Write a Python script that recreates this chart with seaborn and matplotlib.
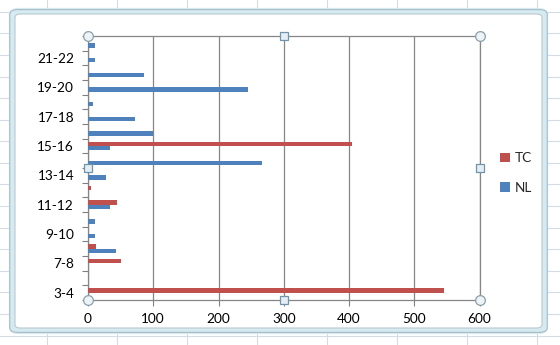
import matplotlib
matplotlib.use("Agg")
import matplotlib.pyplot as plt
import seaborn as sns
import pandas as pd
import numpy as np
from matplotlib.lines import Line2D
from matplotlib.patches import FancyBboxPatch, Patch

# ---- data (top-to-bottom order as displayed) ----
categories = ["22-23", "21-22", "20-21", "19-20", "18-19", "17-18", "16-17", "15-16",
              "14-15", "13-14", "12-13", "11-12", "10-11", "9-10", "8-9", "7-8", "6-7", "3-4"]
tc_values = [0, 0, 0, 0, 0, 0, 0, 404, 0, 0, 4, 45, 0, 0, 13, 51, 0, 545]
nl_values = [10, 11, 86, 245, 7, 72, 100, 34, 267, 27, 0, 33, 11, 11, 43, 0, 0, 0]
series_names = ["TC", "NL"]
series_colors = ["#C0504D", "#4F81BD"]
x_ticks = [0, 100, 200, 300, 400, 500, 600]

df = pd.DataFrame({
    "cat": categories * 2,
    "value": tc_values + nl_values,
    "series": [series_names[0]] * len(categories) + [series_names[1]] * len(categories),
})

sns.set_theme(style="white")
plt.rcParams["font.family"] = ["Lato", "DejaVu Sans"]

W, H = 560, 345
fig = plt.figure(figsize=(W / 100, H / 100), dpi=100)
fig.patch.set_facecolor("white")

# spreadsheet grid behind the chart
grid_c = "#d4dbe6"
for x in [47, 117, 187, 257, 327, 397, 467, 537]:
    fig.add_artist(Line2D([x / W, x / W], [0, 1], color=grid_c, lw=0.8, transform=fig.transFigure, zorder=0))
for y in np.arange(11.7, 345, 21.6):
    fig.add_artist(Line2D([0, 1], [1 - y / H, 1 - y / H], color=grid_c, lw=0.8, transform=fig.transFigure, zorder=0))

# chart frame (selected chart)
x0, y0, x1, y1 = 12, 11, 545, 331
fig.add_artist(FancyBboxPatch((x0 / W, 1 - y1 / H), (x1 - x0) / W, (y1 - y0) / H,
                              boxstyle="round,pad=0,rounding_size=0.012",
                              transform=fig.transFigure, facecolor="white",
                              edgecolor="#d6eaf1", lw=4.5, zorder=1))
fig.add_artist(FancyBboxPatch((x0 / W, 1 - y1 / H), (x1 - x0) / W, (y1 - y0) / H,
                              boxstyle="round,pad=0.004,rounding_size=0.014",
                              transform=fig.transFigure, facecolor="none",
                              edgecolor="#a8bcc6", lw=0.8, zorder=1))
fig.add_artist(FancyBboxPatch(((x0 + 3) / W, 1 - (y1 - 3) / H), (x1 - x0 - 6) / W, (y1 - y0 - 6) / H,
                              boxstyle="round,pad=0,rounding_size=0.01",
                              transform=fig.transFigure, facecolor="white",
                              edgecolor="#b8c8d0", lw=0.8, zorder=1))

left, right, top, bottom = 88, 479.5, 36, 300
ax = fig.add_axes([left / W, 1 - bottom / H, (right - left) / W, (bottom - top) / H], zorder=2)
ax.set_facecolor("white")

sns.barplot(data=df, y="cat", x="value", hue="series", order=categories,
            hue_order=series_names, palette=series_colors, orient="h",
            width=0.57, ax=ax, saturation=1, legend=False, zorder=3)

ax.set_xlim(0, 600)
ax.set_ylim(len(categories) - 0.5, -0.5)
ax.set_xticks(x_ticks)
ax.set_xticklabels([str(t) for t in x_ticks], fontsize=9.8, color="black")
ax.set_yticks(range(len(categories)))
ax.set_yticklabels([c if i % 2 == 1 else "" for i, c in enumerate(categories)], fontsize=9.8, color="black")
ax.set_yticks(np.arange(-0.5, len(categories), 1.0), minor=True)
ax.tick_params(axis="y", which="major", length=0, pad=10)
ax.tick_params(axis="y", which="minor", length=4.5, width=0.8, color="#808080", direction="out", left=True)
ax.tick_params(axis="x", which="major", length=4.5, width=0.8, color="#808080", direction="out", bottom=True, pad=5)
ax.set_xlabel("")
ax.set_ylabel("")
ax.xaxis.grid(True, color="#868686", lw=0.9)
ax.yaxis.grid(False)
ax.set_axisbelow(True)
for s in ax.spines.values():
    s.set_color("#868686")
    s.set_linewidth(0.9)
for p in ax.patches:
    p.set_edgecolor("none")

# legend
handles = [Patch(facecolor=c, edgecolor="none") for c in series_colors]
leg = fig.legend(handles, series_names, loc="upper left",
                 bbox_to_anchor=(488 / W, 1 - 140 / H), frameon=False,
                 handlelength=0.75, handleheight=0.75, handletextpad=0.3,
                 labelspacing=1.3, fontsize=9.8)

# selection handles on the plot area
def fig_pt(px, py):
    return px / W, 1 - py / H

for (px, py) in [(left, top), (right, top), (left, bottom), (right, bottom)]:
    fx, fy = fig_pt(px, py)
    fig.add_artist(Line2D([fx], [fy], marker="o", ms=7, mfc="#eef3f6", mec="#8aa0ac", mew=0.9,
                          transform=fig.transFigure, zorder=5))
mx = (left + right) / 2
my = (top + bottom) / 2
for (px, py) in [(mx, top), (mx, bottom), (left, my), (right, my)]:
    fx, fy = fig_pt(px, py)
    fig.add_artist(Line2D([fx], [fy], marker="s", ms=5.5, mfc="#e4eef4", mec="#6f93aa", mew=0.9,
                          transform=fig.transFigure, zorder=5))

fig.savefig("out.png", dpi=100)
